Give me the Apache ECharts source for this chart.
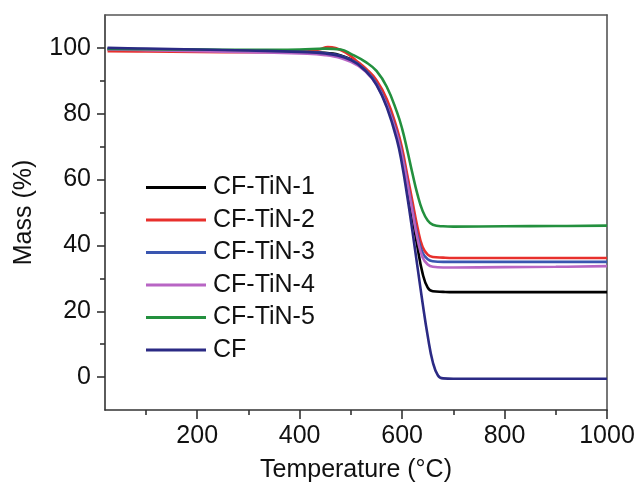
<!DOCTYPE html>
<html>
<head>
<meta charset="utf-8">
<script src="https://cdn.jsdelivr.net/npm/echarts@6/dist/echarts.min.js"></script>
<style>html,body{margin:0;padding:0;background:#fff;}#c{width:640px;height:488px;}</style>
</head>
<body>
<div id="c"></div>
<script>
// Data (temperature °C, mass %)
var seriesNames = ['CF-TiN-1', 'CF-TiN-2', 'CF-TiN-3', 'CF-TiN-4', 'CF-TiN-5', 'CF'];
var tin1 = [[25,99.6],[100,99.4],[200,99.2],[300,99.0],[400,98.8],[450,98.5],[500,96.6],[530,93.2],[550,89.2],[570,83.2],[590,74.5],[600,67.5],[610,58.5],[620,49],[630,39.5],[640,31.5],[650,27.2],[660,26.1],[680,25.9],[700,25.8],[800,25.8],[900,25.8],[1000,25.8]];
var tin2 = [[25,99.0],[100,98.9],[200,98.8],[300,98.7],[400,98.8],[440,99.6],[455,100.3],[470,100.0],[490,98.6],[510,96.2],[530,93.6],[550,90.2],[570,84.5],[590,75.5],[600,69.5],[610,61.5],[620,53.5],[630,45.5],[640,39.5],[650,37.2],[660,36.5],[680,36.3],[700,36.2],[800,36.2],[900,36.2],[1000,36.2]];
var tin3 = [[25,99.8],[100,99.6],[200,99.4],[300,99.1],[400,98.8],[450,98.4],[500,96.4],[530,93.0],[550,89.2],[570,83.0],[590,74.0],[600,67.5],[610,59.5],[620,51.0],[630,43.0],[640,37.8],[650,35.8],[660,35.2],[680,35.0],[700,35.0],[800,35.0],[900,35.0],[1000,35.0]];
var tin4 = [[25,99.5],[100,99.3],[200,99.0],[300,98.7],[400,98.3],[450,97.8],[500,95.8],[530,92.6],[550,88.8],[570,82.5],[590,73.5],[600,67.0],[610,59.0],[620,50.5],[630,42.0],[640,36.3],[650,34.2],[660,33.5],[680,33.3],[700,33.3],[800,33.4],[900,33.5],[1000,33.7]];
var tin5 = [[25,99.7],[100,99.6],[200,99.5],[300,99.4],[400,99.5],[450,99.8],[480,99.5],[500,98.2],[530,95.6],[550,93.0],[570,88.2],[590,80.5],[600,75.5],[610,69.0],[620,62.0],[630,55.5],[640,50.5],[650,47.6],[660,46.3],[680,45.8],[700,45.7],[800,45.8],[900,45.9],[1000,46.0]];
var cf   = [[25,100.0],[100,99.8],[200,99.5],[300,99.2],[400,98.8],[450,98.3],[500,96.3],[530,92.8],[550,88.8],[570,82.0],[590,72.0],[600,64.5],[610,55.0],[620,44.5],[630,33.5],[640,22.5],[650,12.5],[660,4.5],[670,0.5],[680,-0.4],[700,-0.5],[800,-0.5],[900,-0.5],[1000,-0.5]];
var seriesData = [tin1, tin2, tin3, tin4, tin5, cf];
var colors = ['#000000', '#e8302c', '#3a56b0', '#b865c4', '#23903e', '#2b2a84'];
var xMajorTicks = [200, 400, 600, 800, 1000];
var xMinorTicks = [100, 300, 500, 700, 900];
var yMajorTicks = [0, 20, 40, 60, 80, 100];
var yMinorTicks = [10, 30, 50, 70, 90];

var FONT = 'Liberation Sans, Arial, sans-serif';
var chart = echarts.init(document.getElementById('c'), null, {renderer: 'canvas'});
var series = seriesNames.map(function (n, i) {
  return {
    name: n, type: 'line', data: seriesData[i], showSymbol: false, symbol: 'none',
    smooth: 0.45,
    xAxisIndex: 0, yAxisIndex: 0,
    lineStyle: {color: colors[i], width: 2.6}, itemStyle: {color: colors[i]},
    z: 2
  };
});
function plain(v) { return String(v); }
chart.setOption({
  animation: false,
  backgroundColor: '#fff',
  grid: {left: 105, right: 33, top: 15, bottom: 68, containLabel: false},
  legend: {
    orient: 'vertical', left: 141, top: 170, itemGap: 7.5,
    itemWidth: 60, itemHeight: 3, icon: 'rect',
    textStyle: {fontSize: 25, fontFamily: FONT, color: '#111', padding: [0, 0, 0, 2]},
    data: seriesNames
  },
  xAxis: [
    {type: 'value', position: 'bottom', min: 20, max: 1000,
     name: 'Temperature (°C)', nameLocation: 'middle', nameGap: 48,
     nameTextStyle: {fontSize: 25, fontFamily: FONT, color: '#111'},
     axisLine: {show: true, onZero: false, lineStyle: {color: '#333', width: 1.6}},
     axisTick: {show: true, inside: false, length: 9, customValues: xMajorTicks, lineStyle: {color: '#333', width: 1.6}},
     axisLabel: {show: true, customValues: xMajorTicks, formatter: plain, margin: 14, fontSize: 25, fontFamily: FONT, color: '#111'},
     splitLine: {show: false}},
    {type: 'value', position: 'bottom', min: 20, max: 1000,
     axisLine: {show: false, onZero: false},
     axisTick: {show: true, inside: false, length: 5, customValues: xMinorTicks, lineStyle: {color: '#333', width: 1.6}},
     axisLabel: {show: false}, splitLine: {show: false}},
    {type: 'value', position: 'top', min: 20, max: 1000,
     axisLine: {show: true, onZero: false, lineStyle: {color: '#555', width: 1.6}},
     axisTick: {show: false}, axisLabel: {show: false}, splitLine: {show: false}}
  ],
  yAxis: [
    {type: 'value', position: 'left', min: -10, max: 110,
     name: 'Mass (%)', nameLocation: 'middle', nameGap: 68, nameRotate: 90,
     nameTextStyle: {fontSize: 25, fontFamily: FONT, color: '#111'},
     axisLine: {show: true, onZero: false, lineStyle: {color: '#333', width: 1.6}},
     axisTick: {show: true, inside: false, length: 8, customValues: yMajorTicks, lineStyle: {color: '#333', width: 1.6}},
     axisLabel: {show: true, customValues: yMajorTicks, formatter: plain, margin: 14, fontSize: 25, fontFamily: FONT, color: '#111'},
     splitLine: {show: false}},
    {type: 'value', position: 'left', min: -10, max: 110,
     axisLine: {show: false, onZero: false},
     axisTick: {show: true, inside: false, length: 5, customValues: yMinorTicks, lineStyle: {color: '#333', width: 1.6}},
     axisLabel: {show: false}, splitLine: {show: false}},
    {type: 'value', position: 'right', min: -10, max: 110,
     axisLine: {show: true, onZero: false, lineStyle: {color: '#555', width: 1.6}},
     axisTick: {show: false}, axisLabel: {show: false}, splitLine: {show: false}}
  ],
  series: series
});
</script>
</body>
</html>
